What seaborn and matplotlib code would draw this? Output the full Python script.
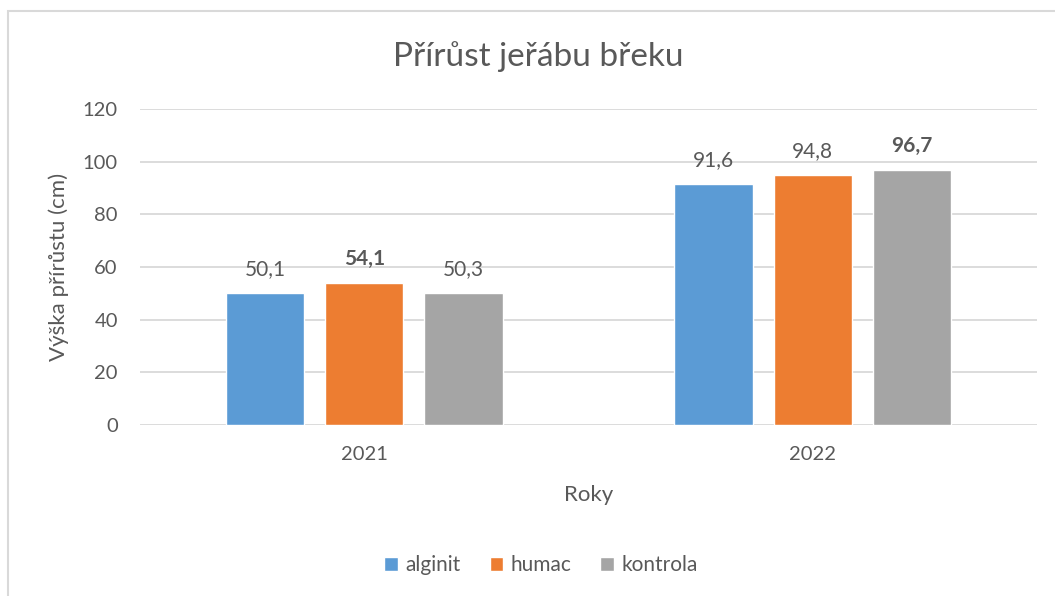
import pandas as pd
import matplotlib.pyplot as plt
import seaborn as sns
from matplotlib.patches import Rectangle

# Data
years = ['2021', '2022']
alginit = [50.1, 91.6]
humac = [54.1, 94.8]
kontrola = [50.3, 96.7]
series_names = ['alginit', 'humac', 'kontrola']
colors = ['#5B9BD5', '#ED7D31', '#A5A5A5']

df = pd.DataFrame({'Roky': years * 3,
                   'value': alginit + humac + kontrola,
                   'series': [s for s in series_names for _ in years]})

sns.set_style('white')
plt.rcParams['font.family'] = ['Lato', 'DejaVu Sans']
text_col = '#595959'

fig = plt.figure(figsize=(10.55, 5.96), dpi=100)
ax = fig.add_axes([140 / 1055, 1 - 425 / 596, 897 / 1055, 316 / 596])

sns.barplot(data=df, x='Roky', y='value', hue='series', palette=colors,
            width=0.663, gap=0.21, ax=ax, saturation=1, legend=True)

ax.set_ylim(0, 120)
ax.set_xlim(-0.5, 1.5)
ax.set_yticks(range(0, 121, 20))
ax.yaxis.grid(True, color='#D9D9D9', linewidth=1.3)
ax.set_axisbelow(True)
for s in ax.spines.values():
    s.set_visible(False)
ax.tick_params(axis='y', length=0, labelsize=14.5, colors=text_col, pad=16)
ax.tick_params(axis='x', length=0, labelsize=14.5, colors=text_col, pad=15)

ax.set_xlabel('Roky', fontsize=16, color=text_col, labelpad=16)
ax.set_ylabel('Výška přírůstu (cm)', fontsize=16, color=text_col, labelpad=10)
fig.text(538 / 1055, 1 - 57 / 596, 'Přírůst jeřábu břeku', fontsize=24,
         color=text_col, ha='center', va='center')

# data labels, the max in each year in bold
maxima = [max(v) for v in zip(alginit, humac, kontrola)]
for cont in ax.containers:
    vals = [b.get_height() for b in cont]
    labels = [f'{v:.1f}'.replace('.', ',') for v in vals]
    texts = ax.bar_label(cont, labels=labels, padding=10, fontsize=15, color=text_col)
    for t, v, m in zip(texts, vals, maxima):
        if v == m:
            t.set_fontweight('bold')

ax.legend(loc='center', bbox_to_anchor=(541 / 1055, 1 - 565 / 596),
          bbox_transform=fig.transFigure, ncol=3, frameon=False, fontsize=15,
          labelcolor=text_col, handlelength=0.65, handleheight=0.65,
          handletextpad=0.35, columnspacing=1.4)

# chart frame
fig.patches.append(Rectangle((8 / 1055, -0.1), 1.2, 1 - 10.5 / 596 + 0.1,
                             transform=fig.transFigure, fill=False,
                             edgecolor='#D9D9D9', linewidth=1.5))

fig.savefig('out.png', dpi=100)
